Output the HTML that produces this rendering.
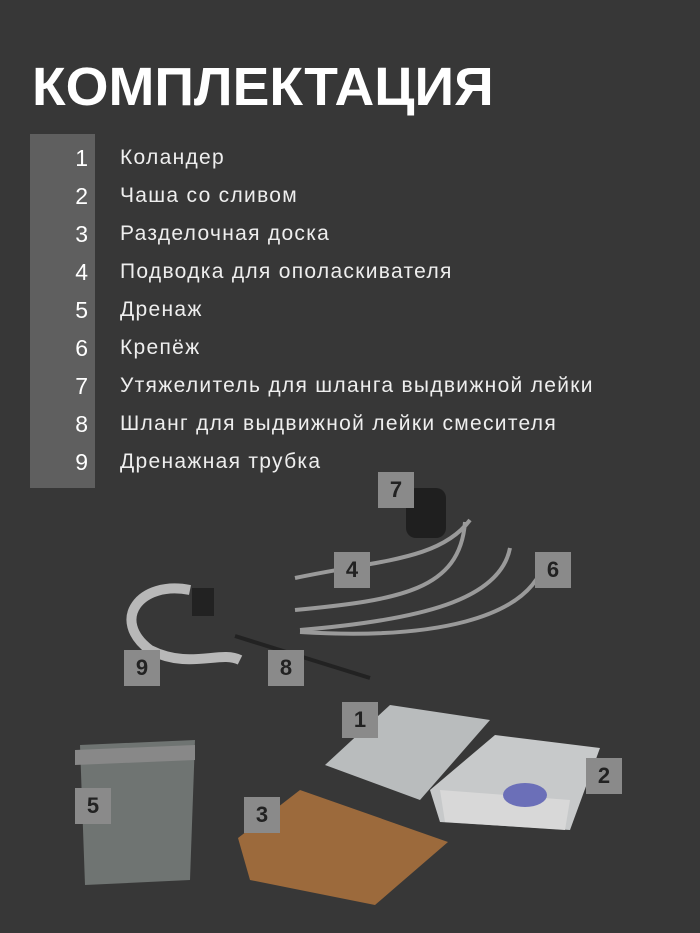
<!DOCTYPE html>
<html><head><meta charset="utf-8"><style>
body{margin:0;width:700px;height:933px;overflow:hidden;background:#373737;font-family:"Liberation Sans","DejaVu Sans",sans-serif;position:relative}
.t{position:absolute;left:32px;top:56px;color:#fff;font-weight:bold;font-size:54px;transform:scaleX(1.02);transform-origin:left}
.col{position:absolute;left:30px;top:134px;width:65px;height:354px;background:#5f5f5f}
.n{position:absolute;left:30px;width:58px;text-align:right;color:#fff;font-size:23px}
.l{position:absolute;left:120px;color:#eee;font-size:21px;letter-spacing:1.3px}
.b{position:absolute;width:36px;height:36px;background:#8a8a8a;color:#222;font-weight:bold;font-size:22px;text-align:center;line-height:36px}
</style></head><body>
<div class="t">КОМПЛЕКТАЦИЯ</div>
<div class="col"></div>
<div class="n" style="top:145px">1</div><div class="l" style="top:146px">Коландер</div>
<div class="n" style="top:183px">2</div><div class="l" style="top:184px">Чаша со сливом</div>
<div class="n" style="top:221px">3</div><div class="l" style="top:222px">Разделочная доска</div>
<div class="n" style="top:259px">4</div><div class="l" style="top:260px">Подводка для ополаскивателя</div>
<div class="n" style="top:297px">5</div><div class="l" style="top:298px">Дренаж</div>
<div class="n" style="top:335px">6</div><div class="l" style="top:336px">Крепёж</div>
<div class="n" style="top:373px">7</div><div class="l" style="top:374px">Утяжелитель для шланга выдвижной лейки</div>
<div class="n" style="top:411px">8</div><div class="l" style="top:412px">Шланг для выдвижной лейки смесителя</div>
<div class="n" style="top:449px">9</div><div class="l" style="top:450px">Дренажная трубка</div>
<svg style="position:absolute;left:0;top:0" width="700" height="933">
<g fill="none" stroke="#9a9a9a" stroke-width="4">
<path d="M295 578 C380 560 440 560 470 520"/>
<path d="M295 610 C400 600 460 590 465 522"/>
<path d="M300 630 C420 620 500 600 510 548"/>
<path d="M300 632 C430 640 530 620 545 560"/>
</g>
<path d="M190 590 C140 580 110 620 150 650 C190 670 220 650 240 660" fill="none" stroke="#b8b8b8" stroke-width="10"/>
<rect x="192" y="588" width="22" height="28" fill="#222"/>
<path d="M235 636 L370 678" stroke="#222" stroke-width="4"/>
<rect x="406" y="488" width="40" height="50" rx="10" fill="#1f1f1f"/>
<polygon points="80,745 195,740 190,880 85,885" fill="#6f7472"/>
<polygon points="75,750 195,745 195,760 75,765" fill="#888"/>
<polygon points="325,765 390,705 490,720 420,800" fill="#b9bcbd"/>
<polygon points="430,790 495,735 600,748 570,830 440,822" fill="#c7c9ca"/>
<polygon points="440,790 570,800 565,830 445,822" fill="#d8d8d8"/>
<ellipse cx="525" cy="795" rx="22" ry="12" fill="#6b6fb8"/>
<polygon points="238,838 300,790 448,842 375,905 250,880" fill="#9c6a3c"/>
</svg>
<div class="b" style="left:378px;top:472px">7</div>
<div class="b" style="left:334px;top:552px">4</div>
<div class="b" style="left:535px;top:552px">6</div>
<div class="b" style="left:124px;top:650px">9</div>
<div class="b" style="left:268px;top:650px">8</div>
<div class="b" style="left:342px;top:702px">1</div>
<div class="b" style="left:586px;top:758px">2</div>
<div class="b" style="left:75px;top:788px">5</div>
<div class="b" style="left:244px;top:797px">3</div>
</body></html>
